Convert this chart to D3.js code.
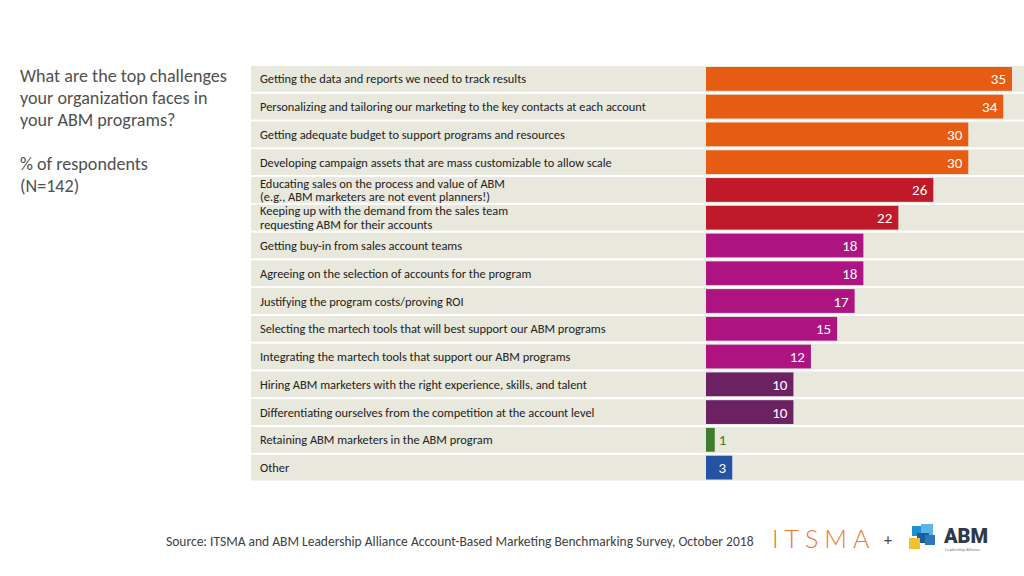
<!DOCTYPE html>
<html><head><meta charset="utf-8">
<script src="https://cdn.jsdelivr.net/npm/d3@7"></script>
<style>html,body{margin:0;padding:0;background:#fff;}svg{display:block;}</style>
</head><body>
<svg id="c" width="1024" height="576"></svg>
<script>
const categories = [
  ["Getting the data and reports we need to track results"],
  ["Personalizing and tailoring our marketing to the key contacts at each account"],
  ["Getting adequate budget to support programs and resources"],
  ["Developing campaign assets that are mass customizable to allow scale"],
  ["Educating sales on the process and value of ABM", "(e.g., ABM marketers are not event planners!)"],
  ["Keeping up with the demand from the sales team", "requesting ABM for their accounts"],
  ["Getting buy-in from sales account teams"],
  ["Agreeing on the selection of accounts for the program"],
  ["Justifying the program costs/proving ROI"],
  ["Selecting the martech tools that will best support our ABM programs"],
  ["Integrating the martech tools that support our ABM programs"],
  ["Hiring ABM marketers with the right experience, skills, and talent"],
  ["Differentiating ourselves from the competition at the account level"],
  ["Retaining ABM marketers in the ABM program"],
  ["Other"]
];
const values = [35, 34, 30, 30, 26, 22, 18, 18, 17, 15, 12, 10, 10, 1, 3];
const groups = ["a","a","a","a","b","b","c","c","c","c","c","d","d","e","f"];
const groupColors = {a:"#E65C12", b:"#C01A2A", c:"#AD1481", d:"#6C2262", e:"#3E7C2E", f:"#2553A3"};
const titleLines = ["What are the top challenges", "your organization faces in", "your ABM programs?", "", "% of respondents", "(N=142)"];
const sourceText = "Source: ITSMA and ABM Leadership Alliance Account-Based Marketing Benchmarking Survey, October 2018";

const svg = d3.select("#c");
const font = "Carlito, Lato, 'Open Sans', sans-serif";

const y = d3.scaleBand().domain(d3.range(values.length)).range([65, 481.5]).paddingInner(0).paddingOuter(0);
const x = d3.scaleLinear().domain([0, 35]).range([706, 1012]);

// bands
svg.append("g").selectAll("rect").data(values).join("rect")
  .attr("x", 251).attr("width", 1024 - 251)
  .attr("y", (d, i) => y(i) + 1).attr("height", y.bandwidth() - 2)
  .attr("fill", "#E8E8DD");

// bars
svg.append("g").selectAll("rect").data(values).join("rect")
  .attr("x", x(0)).attr("width", d => x(d) - x(0))
  .attr("y", (d, i) => y(i) + 2).attr("height", y.bandwidth() - 4)
  .attr("fill", (d, i) => groupColors[groups[i]]);

// value labels
svg.append("g").selectAll("text").data(values).join("text")
  .attr("x", d => d < 2 ? x(d) + 4 : x(d) - 6)
  .attr("y", (d, i) => y(i) + y.bandwidth() / 2 + 5.5)
  .attr("text-anchor", d => d < 2 ? "start" : "end")
  .attr("font-family", font).attr("font-size", 15)
  .attr("fill", (d, i) => d < 2 ? "#3E7C2E" : "#fff")
  .text(d => d);

// category labels
const cl = svg.append("g").selectAll("text").data(categories).join("text")
  .attr("font-family", font).attr("font-size", 12.4).attr("fill", "#222")
  .attr("x", 260)
  .attr("y", (d, i) => y(i) + y.bandwidth() / 2 + 4.5 - (d.length - 1) * 6.8);
cl.selectAll("tspan").data(d => d).join("tspan")
  .attr("x", 260).attr("dy", (d, j) => j === 0 ? 0 : 13.6).text(d => d);

// title
svg.append("g").selectAll("text").data(titleLines).join("text")
  .attr("x", 20).attr("y", (d, i) => 82 + i * 22)
  .attr("font-family", font).attr("font-size", 18.1).attr("fill", "#505050")
  .text(d => d);

// source
svg.append("text").attr("x", 166).attr("y", 546)
  .attr("font-family", font).attr("font-size", 13.5).attr("fill", "#404040")
  .text(sourceText);

// ITSMA logo text
svg.append("text").attr("x", 772).attr("y", 548)
  .attr("font-family", "Lato, sans-serif").attr("font-weight", 300).attr("font-size", 25)
  .attr("letter-spacing", 6).attr("fill", "#E8772E").text("ITSMA");
svg.append("text").attr("x", 884).attr("y", 545)
  .attr("font-family", font).attr("font-size", 16).attr("fill", "#444").text("+");

// ABM logo squares
const sq = [
  {x: 912, y: 526, w: 10, h: 10, c: "#1E8FD5"},
  {x: 921, y: 524, w: 12, h: 12, c: "#5BB3E6"},
  {x: 917, y: 533, w: 12, h: 10, c: "#1B5E9C"},
  {x: 909, y: 538, w: 11, h: 11, c: "#F2C12E"},
  {x: 925, y: 535, w: 10, h: 10, c: "#2A79B8"}
];
svg.append("g").selectAll("rect").data(sq).join("rect")
  .attr("x", d => d.x).attr("y", d => d.y).attr("width", d => d.w).attr("height", d => d.h)
  .attr("fill", d => d.c);
svg.append("text").attr("x", 944).attr("y", 543)
  .attr("font-family", "Roboto, 'DejaVu Sans', sans-serif").attr("font-weight", 900).attr("font-size", 20)
  .attr("fill", "#2E3A4A").text("ABM");
svg.append("text").attr("x", 945).attr("y", 551)
  .attr("font-family", font).attr("font-size", 4.5).attr("fill", "#777").text("Leadership Alliance");
</script>
</body></html>
